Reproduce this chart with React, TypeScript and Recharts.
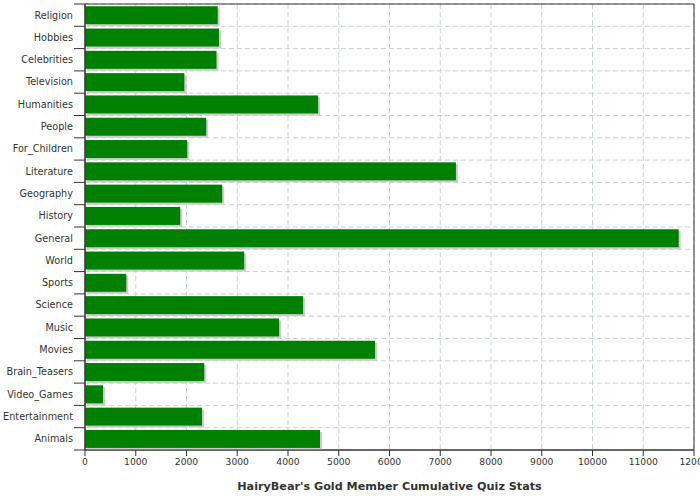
import React from "react"
import { BarChart, Bar, XAxis, YAxis, CartesianGrid, ReferenceArea } from "recharts"

const categories = [
  "Religion", "Hobbies", "Celebrities", "Television", "Humanities", "People", "For_Children",
  "Literature", "Geography", "History", "General", "World", "Sports", "Science", "Music",
  "Movies", "Brain_Teasers", "Video_Games", "Entertainment", "Animals",
]
const scores = [
  2615, 2640, 2590, 1957, 4593, 2388, 2014, 7309, 2703, 1876, 11698, 3136, 813, 4297, 3825,
  5715, 2349, 355, 2305, 4631,
]
const xTicks = [0, 1000, 2000, 3000, 4000, 5000, 6000, 7000, 8000, 9000, 10000, 11000, 12000]
const title = "HairyBear's Gold Member Cumulative Quiz Stats"

const data = categories.map((name, i) => ({ name, score: scores[i] }))

const W = 700
const H = 500
const M = { top: 4, right: 6, bottom: 0, left: 0 }
const Y_WIDTH = 85
const X_HEIGHT = 50
const plotH = H - M.top - M.bottom - X_HEIGHT
const rowH = plotH / categories.length
const axisX = M.left + Y_WIDTH
const font = "'DejaVu Sans', sans-serif"

// labels sit in the middle of each row, tick marks on the row boundaries
function CategoryTick(props: any) {
  const { y, payload, index } = props
  const last = index === categories.length - 1
  return (
    <g>
      <line x1={axisX - 11} x2={axisX} y1={y - rowH / 2} y2={y - rowH / 2} stroke="#333" />
      {last && <line x1={axisX - 11} x2={axisX} y1={y + rowH / 2} y2={y + rowH / 2} stroke="#333" />}
      <text x={axisX - 12} y={y} dy="0.35em" textAnchor="end" fontSize={9.7} fontFamily={font} fill="#333">
        {payload.value}
      </text>
    </g>
  )
}

function ShadowBar(props: any) {
  const { x, y, width, height } = props
  if (!width || width <= 0) return null
  return (
    <g>
      <rect x={x + 2} y={y + 2} width={width} height={height} fill="#cccccc" />
      <rect x={x} y={y} width={width} height={height} fill="#008000" />
    </g>
  )
}

export default function App() {
  return (
    <div style={{ position: "absolute", left: 0, top: 0, background: "#fff" }}>
      <BarChart width={W} height={H} data={data} layout="vertical" margin={M} barCategoryGap="10%">
        <CartesianGrid
          stroke="#c9d1d8"
          strokeDasharray="5 3"
          horizontalCoordinatesGenerator={({ offset }: any) =>
            categories.map((_, i) => offset.top + i * (offset.height / categories.length))
          }
        />
        <XAxis
          type="number"
          domain={[0, 12000]}
          ticks={xTicks}
          interval={0}
          height={X_HEIGHT}
          stroke="#333"
          tickSize={6}
          tickMargin={2}
          tick={{ fontSize: 9.2, fontFamily: font, fill: "#333" }}
          label={{
            value: title,
            position: "insideBottom",
            offset: 10,
            style: { fontSize: 11.2, fontWeight: "bold", fontFamily: font, fill: "#333" },
          }}
        />
        <YAxis
          type="category"
          dataKey="name"
          width={Y_WIDTH}
          stroke="#333"
          tickLine={false}
          interval={0}
          tick={<CategoryTick />}
        />
        <ReferenceArea x1={0} x2={12000} fill="none" stroke="#333" ifOverflow="visible" />
        <Bar dataKey="score" shape={<ShadowBar />} isAnimationActive={false} />
      </BarChart>
    </div>
  )
}
